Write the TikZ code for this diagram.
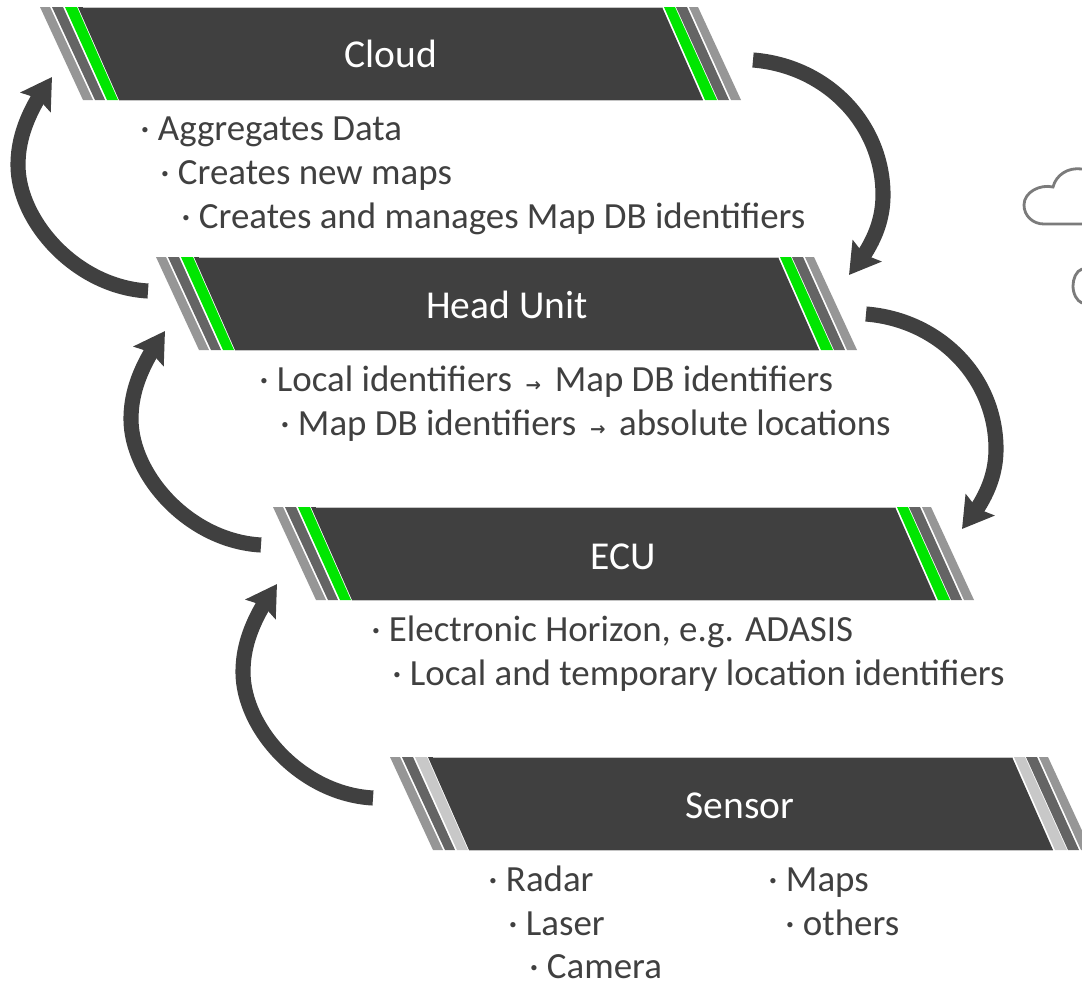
\documentclass[tikz,border=0pt]{standalone}
\usepackage{fontspec}
\setmainfont{Carlito}
\newfontfamily\symfont{DejaVu Sans}
\usetikzlibrary{arrows.meta,bending,calc}
\definecolor{ink}{HTML}{404040}
\definecolor{gA}{HTML}{969696}
\definecolor{gB}{HTML}{646464}
\definecolor{gC}{HTML}{00E600}
\definecolor{gS}{HTML}{C8C8C8}
\definecolor{edge}{HTML}{C4C4C4}
\tikzset{
  x=0.02cm,y=-0.02cm,
  title/.style={text=white,font=\fontsize{22.5}{26}\selectfont,inner sep=0pt,anchor=base},
  body/.style={text=ink,font=\fontsize{21}{25}\selectfont,inner sep=0pt,anchor=base west},
  flow/.style={draw=ink,line width=8.6pt,-{Stealth[length=17pt,width=20pt,inset=2.5pt,flex=1]}},
  cloudline/.style={draw=gB!85,line width=1.6pt,line cap=round}
}
\newcommand{\smallarrow}{\hspace{3pt}{\symfont\bfseries\fontsize{10.5}{12}\selectfont →}\hspace{3pt}}
\newcommand{\band}[4]{% left x, top y, width of outer strip at top, third colour
  \begin{scope}[shift={(#1,#2)}]
    \fill[ink] (38,0) -- (#3-36,0) -- (#3+5,93) -- (79,93) -- cycle;
    \draw[edge,line width=0.6pt] (43,0.3) -- (#3-36,0.3);
    \draw[edge,line width=0.6pt] (79,93.3) -- (#3+5,93.3);
    \fill[gA] (0,0) -- (10,0) -- (53,93) -- (43,93) -- cycle;
    \fill[gB] (12,0) -- (23,0) -- (65,93) -- (55,93) -- cycle;
    \fill[#4] (25,0) -- (37,0) -- (78,93) -- (67,93) -- cycle;
    \fill[#4] (#3-34,0) -- (#3-23,0) -- (#3+19,93) -- (#3+7,93) -- cycle;
    \fill[gB] (#3-22,0) -- (#3-11,0) -- (#3+31,93) -- (#3+20,93) -- cycle;
    \fill[gA] (#3-9,0) -- (#3,0) -- (#3+43,93) -- (#3+33,93) -- cycle;
  \end{scope}
}
\newcommand{\leftflow}[2]{\draw[flow] (#1) .. controls ($(#1)+(-72,-4)$) and ($(#1)+(-130,-70)$) .. ($(#1)+(-130,-126)$) .. controls ($(#1)+(-130,-156)$) and ($(#1)+(-118,-183)$) .. (#2);}
\newcommand{\rightflow}[2]{\draw[flow] (#1) .. controls ($(#1)+(75,6)$) and ($(#1)+(130,65)$) .. ($(#1)+(130,135)$) .. controls ($(#1)+(130,165)$) and ($(#1)+(117,190)$) .. (#2);}
\begin{document}
\begin{tikzpicture}
\useasboundingbox (0,0) rectangle (1082,981);
\fill[white] (0,0) rectangle (1082,981);
\begin{scope}
\clip (0,0) rectangle (1082,981);
\draw[cloudline] (1082,169) .. controls (1068,167) and (1056,175) .. (1053,187)
  .. controls (1040,184) and (1024,192) .. (1024,205)
  .. controls (1024,216) and (1033,224) .. (1044,224) -- (1082,224);
\draw[cloudline] (1082,269) .. controls (1076,271) and (1073,279) .. (1073,286)
  .. controls (1073,294) and (1077,301) .. (1082,303);
\band{40}{7}{658}{gC}
\band{156}{257}{658}{gC}
\band{273}{507}{658}{gC}
\band{390}{757}{658}{gS}
\end{scope}
\node[title] (tCloud) at (391,67) {Cloud};
\node[title] (tHead) at (507,318) {Head Unit};
\node[title] (tEcu) at (623,569) {ECU};
\node[title] (tSensor) at (740,818) {Sensor};
\node[body] (c1) at (140,140) {· Aggregates Data};
\node[body] (c2) at (160,184) {· Creates new maps};
\node[body] (c3) at (181,228) {· Creates and manages Map DB identifiers};
\node[body] (h1) at (259,391) {· Local identifiers \smallarrow{} Map DB identifiers};
\node[body] (h2) at (280,435) {· Map DB identifiers \smallarrow{} absolute locations};
\node[body] (e1) at (371,641) {· Electronic Horizon, e.g. ADASIS};
\node[body] (e2) at (392,685) {· Local and temporary location identifiers};
\node[body] (s1) at (488,891) {· Radar};
\node[body] (s2) at (508,935) {· Laser};
\node[body] (s3) at (529,978) {· Camera};
\node[body] (s4) at (768,891) {· Maps};
\node[body] (s5) at (785,935) {· others};
\coordinate (aS) at (148,291); \coordinate (aE) at (52,77);
\coordinate (bS) at (261,545); \coordinate (bE) at (165,331);
\coordinate (cS) at (373,798); \coordinate (cE) at (277,584);
\coordinate (dS) at (753,60); \coordinate (dE) at (849,275);
\coordinate (eS) at (866,314); \coordinate (eE) at (962,529);
\leftflow{aS}{aE}
\leftflow{bS}{bE}
\leftflow{cS}{cE}
\rightflow{dS}{dE}
\rightflow{eS}{eE}
\end{tikzpicture}
\end{document}
